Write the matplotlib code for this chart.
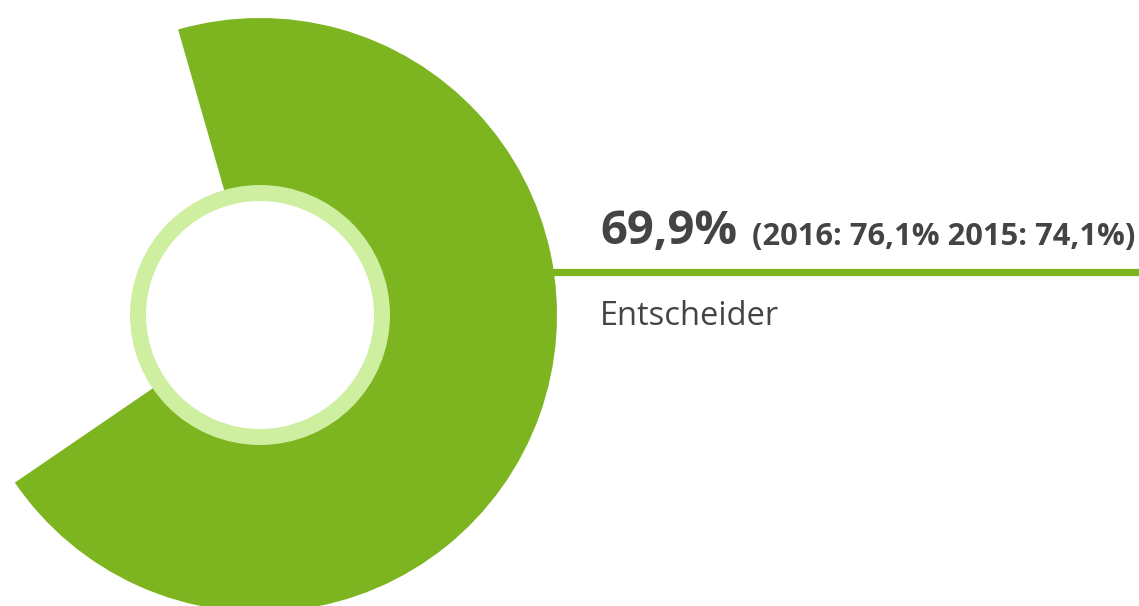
import matplotlib.pyplot as plt
from matplotlib.patches import Wedge, Circle

# data
share = 69.9
label = 'Entscheider'
prev_years = ['2016', '2015']
prev_values = [76.1, 74.1]

green = '#7cb520'
light = '#ceeea0'
text_col = '#444444'

W, H = 1139, 606
fig = plt.figure(figsize=(W / 100, H / 100), dpi=100)
ax = fig.add_axes([0, 0, 1, 1])
ax.set_xlim(0, W)
ax.set_ylim(0, H)
ax.set_aspect('equal')
ax.axis('off')

# donut (pixel coordinates, y up)
cx, cy = 260, 291
r_out = 297
end_angle = 106.0
start_angle = end_angle - 360 * share / 100
ax.add_patch(Wedge((cx, cy), r_out, start_angle, end_angle, color=green, lw=0))
ax.add_patch(Circle((cx, cy), 130, color=light, lw=0))
ax.add_patch(Circle((cx, cy), 114, color='white', lw=0))

# leader line
ax.plot([cx + r_out - 8, W], [H - 272, H - 272], color=green, lw=5.2,
        solid_capstyle='butt', zorder=0)

def fmt(v):
    return f'{v:.1f}'.replace('.', ',') + '%'

plt.rcParams['font.family'] = ['Open Sans', 'DejaVu Sans']

ax.text(600, H - 244, fmt(share), fontsize=34, fontweight='bold',
        color=text_col, ha='left', va='baseline')
sub = '(' + ' '.join(f'{y}: {fmt(v)}' for y, v in zip(prev_years, prev_values)) + ')'
ax.text(752, H - 245, sub, fontsize=22.2, fontweight='bold',
        color=text_col, ha='left', va='baseline')
ax.text(600, H - 325, label, fontsize=23.5, color=text_col,
        ha='left', va='baseline')

fig.savefig('out.png', dpi=100)
